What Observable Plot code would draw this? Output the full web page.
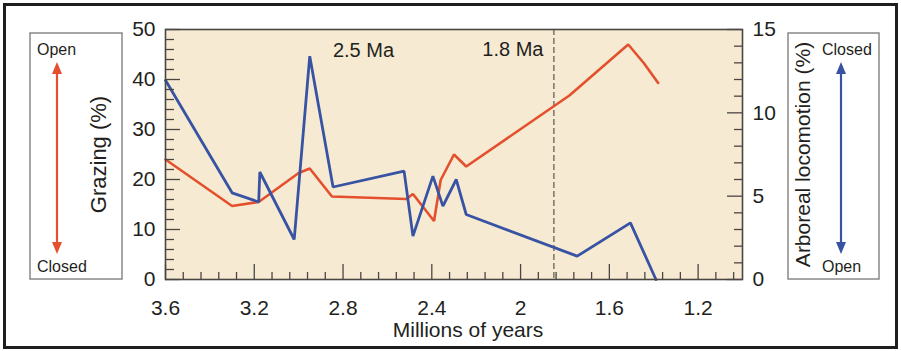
<!DOCTYPE html>
<html>
<head>
<meta charset="utf-8">
<script src="https://cdn.jsdelivr.net/npm/d3@7"></script>
<script src="https://cdn.jsdelivr.net/npm/@observablehq/plot@0.6"></script>
<style>
  body { margin: 0; background: #ffffff; }
  #chart svg { display: block; }
</style>
</head>
<body>
<div id="chart"></div>
<script>
// ---- Data ----
const grazingAge = [3.6, 3.3, 3.18, 3.0, 2.95, 2.85, 2.515, 2.485, 2.39, 2.36, 2.30, 2.245, 1.78, 1.515, 1.445, 1.38];
const grazingPct = [24.0, 14.7, 15.5, 21.3, 22.2, 16.6, 16.1, 17.1, 11.7, 19.9, 25.0, 22.6, 36.8, 47.0, 43.3, 39.3];

const arborealAge = [3.6, 3.3, 3.18, 3.175, 3.02, 2.95, 2.845, 2.525, 2.485, 2.395, 2.35, 2.29, 2.245, 1.745, 1.505, 1.39];
const arborealPct = [11.95, 5.2, 4.65, 6.45, 2.4, 13.4, 5.55, 6.5, 2.6, 6.2, 4.4, 6.0, 3.9, 1.4, 3.4, 0.0];

const xTickValues = [3.6, 3.2, 2.8, 2.4, 2.0, 1.6, 1.2];
const xTickLabels = ["3.6", "3.2", "2.8", "2.4", "2", "1.6", "1.2"];
const leftTickValues = [0, 10, 20, 30, 40, 50];
const leftTickLabels = ["0", "10", "20", "30", "40", "50"];
const rightTickValues = [0, 5, 10, 15];
const rightTickLabels = ["0", "5", "10", "15"];

const markerAge = [1.85];
const noteText = ["2.5 Ma", "1.8 Ma"];
const noteAge = [2.708, 1.897];
const noteValue = [45.8, 46.0];
const noteAnchor = ["middle", "end"];

const xLabel = "Millions of years";
const leftLabel = "Grazing (%)";
const rightLabel = "Arboreal locomotion (%)";

// ---- Build tables ----
const grazing = grazingAge.map((a, i) => ({age: a, v: grazingPct[i]}));
const arboreal = arborealAge.map((a, i) => ({age: a, v: arborealPct[i]}));
const notes = noteText.map((t, i) => ({t, age: noteAge[i], v: noteValue[i], anchor: noteAnchor[i]}));

const K = 50 / 15; // right axis (0–15) mapped onto left scale (0–50)
const RED = "#e4502d";
const BLUE = "#3853a4";
const INK = "#231f20";
const FONT = "'Liberation Sans', Arial, Helvetica, sans-serif";

const W = 901, H = 351;
const mL = 165, mR = 159, mT = 29, mB = 72;
const pW = W - mL - mR, pH = H - mT - mB;

const leftMinor = d3.range(0, 50, 2).filter(v => v % 10 !== 0);
const rightMinor = d3.range(0, 15, 1).filter(v => v % 5 !== 0);
const xMinor = d3.range(0, 33).map(i => +(3.6 - i * 0.08).toFixed(2)).filter((v, i) => i % 5 !== 0);

const TICK = "#4a4643";

const svg = Plot.plot({
  width: W,
  height: H,
  marginLeft: mL,
  marginRight: mR,
  marginTop: mT,
  marginBottom: mB,
  style: {fontFamily: FONT, fontSize: "21px", color: INK, background: "transparent"},
  x: {domain: [3.6, 1.0]},
  y: {domain: [0, 50]},
  marks: [
    Plot.frame({fill: "#f6ebd2", stroke: null}),
    Plot.ruleX(markerAge, {x: d => d, stroke: "#6d6a66", strokeWidth: 1.4, strokeDasharray: "6,3"}),
    Plot.line(grazing, {x: "age", y: "v", stroke: RED, strokeWidth: 2.6, strokeLinejoin: "miter"}),
    Plot.line(arboreal, {x: "age", y: d => d.v * K, stroke: BLUE, strokeWidth: 2.8, strokeLinejoin: "miter"}),
    Plot.tickY(leftTickValues, {y: d => d, insetRight: pW - 15, stroke: TICK, strokeWidth: 1.3}),
    Plot.tickY(leftMinor, {y: d => d, insetRight: pW - 9, stroke: TICK, strokeWidth: 1.3}),
    Plot.tickY(rightTickValues, {y: d => d * K, insetLeft: pW - 15, stroke: TICK, strokeWidth: 1.3}),
    Plot.tickY(rightMinor, {y: d => d * K, insetLeft: pW - 8, stroke: TICK, strokeWidth: 1.3}),
    Plot.tickX(xTickValues, {x: d => d, insetTop: pH - 15, stroke: TICK, strokeWidth: 1.3}),
    Plot.tickX(xMinor, {x: d => d, insetTop: pH - 7, stroke: TICK, strokeWidth: 1.3}),
    Plot.frame({stroke: TICK, strokeWidth: 1.6}),
    Plot.axisX(xTickValues, {anchor: "bottom", tickSize: 0, tickPadding: 21, fill: INK,
      tickFormat: (d, i) => xTickLabels[i], label: null}),
    Plot.axisY(leftTickValues, {anchor: "left", tickSize: 0, tickPadding: 10, fill: INK,
      tickFormat: (d, i) => leftTickLabels[i], label: null}),
    Plot.axisY(rightTickValues.map(v => v * K), {anchor: "right", tickSize: 0, tickPadding: 10, fill: INK,
      tickFormat: (d, i) => rightTickLabels[i], label: null}),
    Plot.text(notes.filter(d => d.anchor === "middle"), {x: "age", y: "v", text: "t", textAnchor: "middle", fontSize: 20, fill: INK}),
    Plot.text(notes.filter(d => d.anchor === "end"), {x: "age", y: "v", text: "t", textAnchor: "end", fontSize: 20, fill: INK}),
    Plot.text([xLabel], {frameAnchor: "bottom", dx: 14, dy: 51, lineAnchor: "middle", textAnchor: "middle", fontSize: 21, fill: INK}),
    Plot.text([leftLabel], {frameAnchor: "left", dx: -67, rotate: -90, textAnchor: "middle", lineAnchor: "middle", fontSize: 22, fill: INK}),
    Plot.text([rightLabel], {frameAnchor: "right", dx: 61, rotate: -90, textAnchor: "middle", lineAnchor: "middle", fontSize: 21, fill: INK})
  ]
});

const s = d3.select(svg);
s.selectAll("g[aria-label$='tick label']").attr("font-size", 21).style("font-size", "21px");

// ---- Decorations: outer border and side legend boxes ----
s.insert("rect", ":first-child")
  .attr("x", 4.5).attr("y", 4.5).attr("width", W - 9).attr("height", H - 8)
  .attr("fill", "#ffffff").attr("stroke", "#1e1e1e").attr("stroke-width", 3);

function sideBox(x, w, color, topText, bottomText, arrowX, textX) {
  const g = s.insert("g", ":nth-child(2)");
  g.append("rect").attr("x", x).attr("y", 33).attr("width", w).attr("height", 246)
    .attr("fill", "#ffffff").attr("stroke", "#8a8886").attr("stroke-width", 1.5);
  g.append("line").attr("x1", arrowX).attr("x2", arrowX).attr("y1", 70).attr("y2", 246)
    .attr("stroke", color).attr("stroke-width", 2.2);
  g.append("path").attr("d", `M${arrowX},62 L${arrowX - 5},74 L${arrowX + 5},74 Z`).attr("fill", color);
  g.append("path").attr("d", `M${arrowX},254 L${arrowX - 5},242 L${arrowX + 5},242 Z`).attr("fill", color);
  g.append("text").attr("x", textX).attr("y", 55).text(topText).attr("text-anchor", "start")
    .attr("font-family", FONT).attr("font-size", 16).attr("fill", INK);
  g.append("text").attr("x", textX).attr("y", 272).text(bottomText).attr("text-anchor", "start")
    .attr("font-family", FONT).attr("font-size", 16).attr("fill", INK);
}
sideBox(30, 92, RED, "Open", "Closed", 57, 37);
sideBox(788, 91, BLUE, "Closed", "Open", 841, 822);

document.getElementById("chart").appendChild(svg);
</script>
</body>
</html>
